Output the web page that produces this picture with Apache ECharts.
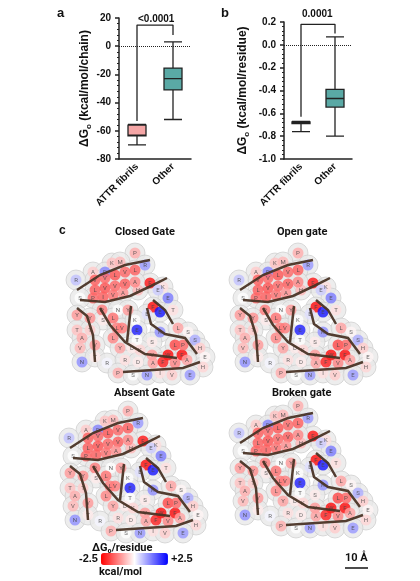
<!DOCTYPE html><html><head><meta charset="utf-8"><script src="https://cdn.jsdelivr.net/npm/echarts@6/dist/echarts.min.js"></script>
<style>html,body{margin:0;background:#fff}#c{width:420px;height:581px}</style></head><body><div id="c"></div><script>
const groups=['ATTR fibrils','Other'];
// [min,Q1,median,Q3,max]
const boxA=[[-70,-63.5,-63,-56,-55.5],[-52,-31,-23,-15.5,3]];
const boxB=[[-0.76,-0.69,-0.685,-0.675,-0.67],[-0.80,-0.545,-0.47,-0.39,0.07]];
const ticksA=[-80,-60,-40,-20,0,20];
const ticksB=[-1.0,-0.8,-0.6,-0.4,-0.2,0.0,0.2];
const pA='<0.0001', pB='0.0001';
const structs=['Closed Gate','Open gate','Absent Gate','Broken gate'];
// residues: [x,y,letter,ΔG]
const residues=[[70,3,'P',-0.8],[47,13,'K',-0.6],[55,12,'M',-0.7],[28,22,'A',-0.5],[40,22,'D',1.2],[80,15,'R',1.0],[11,30,'R',0.6],
[85,33,'F',-2.3],[98,37,'K',-0.3],[93,40,'E',0.5],[73,40,'H',-0.7],[103,48,'E',1.3],
[30,30,'V',-1.6],[40,28,'V',-1.5],[50,25,'L',-1.7],[60,22,'V',-1.5],[70,20,'L',-1.6],[30,40,'L',-1.6],[40,38,'V',-1.7],[50,36,'V',-1.5],[60,34,'V',-1.6],[70,32,'A',-1.2],[28,48,'P',-1.5],[38,47,'I',-1.6],[48,45,'V',-1.4],[58,43,'A',-1.1],
[15,48,'S',0],[12,65,'Y',-1.0],[37,60,'P',-1.3],[53,60,'N',0],[63,60,'Y',-1.0],[88,57,'F',-2.4],[95,62,'E',2.3],[82,64,'E',0.3],[108,60,'T',-0.3],
[25,68,'Y',-1.1],[38,70,'S',-0.2],[12,80,'T',-0.6],[25,80,'T',-0.5],[48,68,'L',-1.4],[52,78,'L',-1.3],[48,88,'L',-1.2],[57,78,'V',-1.3],[70,70,'K',0],[72,80,'E',2.2],
[95,82,'K',1.1],[113,78,'L',-0.9],[123,82,'S',-0.1],[17,88,'A',-0.8],[15,98,'V',-0.7],[30,95,'V',-1.0],[72,90,'T',0],[87,92,'S',-0.2],[130,90,'S',0.8],[135,98,'H',-0.5],
[55,98,'Y',-0.9],[67,98,'D',-0.2],[75,100,'K',-0.4],[103,105,'W',-2.4],[117,105,'F',-2.4],[110,95,'L',-1.8],[118,95,'P',-1.5],[87,105,'Y',-1.0],[140,107,'E',-0.1],
[17,112,'N',1.1],[30,107,'T',-0.2],[42,113,'R',0.1],[60,110,'R',-0.3],[73,112,'D',-0.2],[88,113,'A',-0.9],[98,112,'F',-2.2],[110,113,'V',-1.2],[122,110,'A',-0.9],[138,117,'H',-0.4],
[53,123,'P',-0.8],[68,125,'S',0],[82,125,'N',1.0],[95,123,'I',-0.3],[107,125,'V',-0.5],[125,125,'E',1.0]];
const chains=[[[85,10],[60,15],[35,25],[12,40]],[[15,50],[40,52],[65,46],[88,35],[102,28]],[[12,58],[22,66],[28,85],[30,112]],
[[35,58],[45,75],[60,92],[80,104],[112,108]],[[66,56],[62,92]],[[82,58],[86,74],[100,84],[120,88],[132,104]],
[[135,112],[118,118],[88,120],[58,122]],[[88,50],[100,60],[108,74]]];
const pos=[[65,250],[228,250],[58,408],[228,403]];
const bold={fontWeight:'bold',color:'#111',fontFamily:'Liberation Sans'};
const grids=[{left:119,top:18,width:72,height:141},{left:284,top:22,width:68,height:137}];
const xAxes=[],yAxes=[],series=[];
[0,1].forEach(i=>{
 xAxes.push({type:'category',gridIndex:i,data:groups,axisLine:{onZero:false,lineStyle:{color:'#222',width:1.5}},axisTick:{show:false},
  axisLabel:{rotate:45,fontSize:10,...bold,margin:6}});
 const t=i?ticksB:ticksA;
 yAxes.push({type:'value',gridIndex:i,min:t[0],max:t[t.length-1],interval:t[1]-t[0],splitLine:{show:false},
  axisLine:{show:true,lineStyle:{color:'#222',width:1.5}},axisTick:{show:true,length:4,lineStyle:{width:1.5}},
  minorTick:{show:true,splitNumber:5,length:2,lineStyle:{color:'#222'}},
  axisLabel:{fontSize:10,...bold,formatter:v=>i?(Math.abs(v)<1e-9?'0.0':v.toFixed(1)):v},
  name:i?'ΔG{s|o} (kcal/mol/residue)':'ΔG{s|o} (kcal/mol/chain)',nameLocation:'middle',nameGap:i?33:26,
  nameTextStyle:{fontSize:12,...bold,rich:{s:{fontSize:8,fontWeight:'bold',padding:[8,0,0,0]}}}});
 const d=i?boxB:boxA;
 series.push({type:'boxplot',xAxisIndex:i,yAxisIndex:i,boxWidth:[18,18],
  data:d.map((v,k)=>({value:v,itemStyle:{color:k?'#5aa9a5':'#f5a6a6',borderColor:'#222',borderWidth:1.3}})),
  markLine:{silent:true,symbol:'none',label:{show:false},lineStyle:{type:'dotted',color:'#222',width:1},data:[{yAxis:0}]}});
 const top=i?0.18:15, l=i?-0.63:-53, r=i?0.1:8;
 series.push({type:'line',xAxisIndex:i,yAxisIndex:i,symbol:'none',lineStyle:{color:'#222',width:1.3},
  data:[[groups[0],l],[groups[0],top],[groups[1],top],[groups[1],r]]});
});
const vm=[{type:'continuous',min:-2.5,max:2.5,seriesIndex:[],dimension:3,orient:'horizontal',left:64,top:538,itemWidth:12,itemHeight:67,
 calculable:false,text:['+2.5','-2.5'],textGap:3,textStyle:{fontSize:11,...bold},inRange:{color:['#ff0000','#ffffff','#0000ff']}}];
pos.forEach((p,k)=>{
 const gi=grids.length;
 grids.push({left:p[0],top:p[1],width:150,height:135});
 xAxes.push({type:'value',gridIndex:gi,min:0,max:150,show:false});
 yAxes.push({type:'value',gridIndex:gi,min:0,max:135,inverse:true,show:false});
 series.push({type:'scatter',xAxisIndex:gi,yAxisIndex:gi,symbolSize:20,silent:true,z:1,itemStyle:{color:'#e8e8e8',borderColor:'#cfcfcf',borderWidth:1},data:residues.map(r=>[r[0],r[1]])});
 series.push({type:'scatter',xAxisIndex:gi,yAxisIndex:gi,symbolSize:11,silent:true,z:2,data:residues,
  label:{show:true,formatter:q=>q.value[2],fontSize:6,color:'#444',fontFamily:'Roboto'}});
 vm[0].seriesIndex.push(series.length-1);
 series.push({type:'lines',xAxisIndex:gi,yAxisIndex:gi,coordinateSystem:'cartesian2d',polyline:true,silent:true,z:10,
  symbol:['none','arrow'],symbolSize:8,lineStyle:{color:'#4a3426',width:2.5,opacity:0.95},data:chains.map(c=>({coords:c}))});
});
const T=(x,y,t,s,f)=>({type:'text',left:x,top:y,z:20,style:{text:t,fontSize:s,fontWeight:'bold',fill:'#111',fontFamily:f||'Liberation Sans'}});
const graphic=[T(57,7,'a',13),T(221,7,'b',13),T(59,225,'c',12),
 T(138,14,pA,10),T(302,9,pB,10),
 T(115,227,'Closed Gate',11,'Roboto'),T(277,227,'Open gate',11,'Roboto'),
 T(114,388,'Absent Gate',11,'Roboto'),T(272,388,'Broken gate',11,'Roboto'),
 T(92,543,'ΔG₀/residue',11,'Roboto'),T(99,567,'kcal/mol',11,'Roboto'),T(345,553,'10 Å',11,'Roboto'),
 {type:'line',shape:{x1:345,y1:568,x2:368,y2:568},style:{stroke:'#111',lineWidth:1.5}}];
const ch=echarts.init(document.getElementById('c'));
ch.setOption({animation:false,grid:grids,xAxis:xAxes,yAxis:yAxes,series,visualMap:vm,graphic});
</script></body></html>
